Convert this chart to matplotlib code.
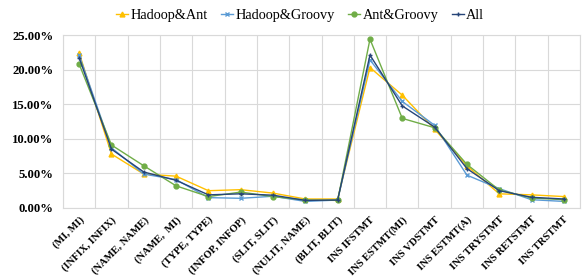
import numpy as np
import matplotlib
matplotlib.use("Agg")
import matplotlib.pyplot as plt
from matplotlib.ticker import FuncFormatter, MultipleLocator

plt.rcParams["font.family"] = ["Liberation Serif", "DejaVu Serif"]

categories = [
    "(MI, MI)", "(INFIX, INFIX)", "(NAME, NAME)", "(NAME,  MI)", "(TYPE, TYPE)",
    "(INFOP, INFOP)", "(SLIT, SLIT)", "(NULIT, NAME)", "(BLIT, BLIT)",
    "INS IFSTMT", "INS ESTMT(MI)", "INS VDSTMT", "INS ESTMT(A)",
    "INS TRYSTMT", "INS RETSTMT", "INS TRSTMT",
]

# percentages
hadoop_ant = [22.4, 7.8, 4.9, 4.6, 2.5, 2.65, 2.15, 1.3, 1.3, 20.3, 16.3, 11.4, 6.1, 2.05, 1.9, 1.65]
hadoop_groovy = [22.1, 8.7, 4.9, 4.1, 1.5, 1.4, 1.7, 0.95, 1.15, 21.4, 15.4, 11.95, 4.75, 2.8, 1.2, 0.95]
ant_groovy = [20.8, 9.1, 6.1, 3.2, 1.65, 2.3, 1.65, 1.15, 1.1, 24.4, 12.95, 11.6, 6.3, 2.6, 1.45, 1.2]
all_projects = [21.7, 8.5, 5.2, 4.0, 1.9, 2.05, 1.85, 1.1, 1.15, 22.1, 14.75, 11.7, 5.7, 2.5, 1.55, 1.3]

series = [
    ("Hadoop&Ant", hadoop_ant, "#FFC000", "^"),
    ("Hadoop&Groovy", hadoop_groovy, "#5B9BD5", "x"),
    ("Ant&Groovy", ant_groovy, "#70AD47", "o"),
    ("All", all_projects, "#264478", "+"),
]

fig = plt.figure(figsize=(5.82, 2.78), dpi=100)
ax = fig.add_axes([63 / 582, 1 - 208 / 278, 517 / 582, 173 / 278])

x = np.arange(len(categories))
for name, values, color, marker in series:
    ax.plot(x, values, color=color, marker=marker, markersize=3.5,
            markeredgewidth=1.0, linewidth=1.0, label=name)

ax.set_xlim(-0.5, len(categories) - 0.5)
ax.set_ylim(0, 25)
ax.yaxis.set_major_locator(MultipleLocator(5))
ax.yaxis.set_major_formatter(FuncFormatter(lambda v, _: "{:.2f}%".format(v)))

ax.set_xticks(x)
ax.set_xticklabels(categories, rotation=45, ha="right", rotation_mode="anchor",
                   fontsize=7.6, fontweight="bold")
ax.set_xticks(np.arange(-0.5, len(categories), 1), minor=True)
for lbl in ax.get_yticklabels():
    lbl.set_fontsize(9.2)
    lbl.set_fontweight("bold")

ax.grid(which="minor", axis="x", color="#d9d9d9", linewidth=0.8)
ax.grid(which="major", axis="y", color="#d9d9d9", linewidth=0.8)
ax.tick_params(which="both", length=0)
ax.tick_params(axis="x", pad=5)
ax.tick_params(axis="y", pad=7)
for s in ax.spines.values():
    s.set_color("#d9d9d9")
    s.set_linewidth(0.8)
ax.set_axisbelow(True)

fig.legend(loc="center", bbox_to_anchor=(300 / 582, 1 - 15 / 278), ncol=4,
           frameon=False, fontsize=10.3, handlelength=0.85, handletextpad=0.15,
           columnspacing=0.95, markerscale=1.0)

fig.savefig("out.png", dpi=100)
